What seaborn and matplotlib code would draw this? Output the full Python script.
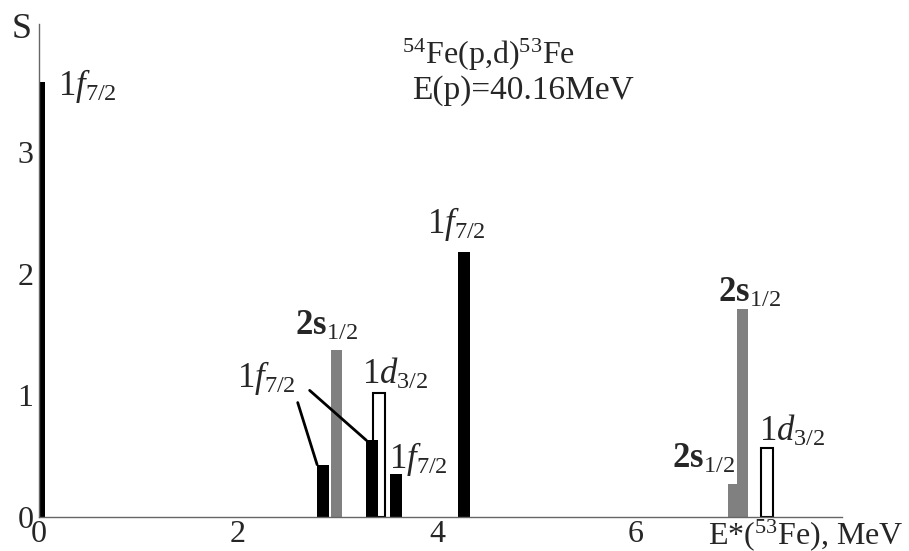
import numpy as np
import pandas as pd
import seaborn as sns
import matplotlib.pyplot as plt
from matplotlib.ticker import MultipleLocator

# filled peaks: 'f' = 1f7/2 (black), 's' = 2s1/2 (gray)
energy = [0.0, 2.855, 2.99, 3.35, 3.585, 4.275, 6.98, 7.07]
strength = [3.57, 0.43, 1.37, 0.63, 0.35, 2.18, 0.27, 1.71]
shell = ['f', 'f', 's', 'f', 'f', 'f', 's', 's']

# open peaks: 1d3/2
d_energy = [3.42, 7.32]
d_strength = [1.02, 0.57]

# peak labels (data coords, left edge / vertical centre)
lab_text = [r'$1\mathit{f}_{7/2}$', r'$1\mathit{f}_{7/2}$', r'$\mathbf{2s}_{1/2}$',
            r'$1\mathit{f}_{7/2}$', r'$1\mathit{d}_{3/2}$', r'$1\mathit{f}_{7/2}$',
            r'$\mathbf{2s}_{1/2}$', r'$\mathbf{2s}_{1/2}$', r'$1\mathit{d}_{3/2}$']
lab_x = [0.19, 3.90, 2.57, 1.99, 3.25, 3.52, 6.82, 6.36, 7.24]
lab_y = [3.54, 2.41, 1.57, 1.14, 1.17, 0.48, 1.84, 0.47, 0.70]

# leader lines from the left 1f7/2 label to the two small peaks
lead_from = [(2.60, 0.94), (2.72, 1.04)]
lead_to = [1, 3]  # index into energy

bar_w = 0.12

sns.set_style("white")
plt.rcParams['font.family'] = ['Liberation Serif', 'DejaVu Serif']
plt.rcParams['mathtext.fontset'] = 'custom'
plt.rcParams['mathtext.rm'] = 'Liberation Serif'
plt.rcParams['mathtext.it'] = 'Liberation Serif:italic'
plt.rcParams['mathtext.bf'] = 'Liberation Serif:bold'

fig = plt.figure(figsize=(9.09, 5.51), dpi=100)
ax = fig.add_axes([39 / 909, 1 - 517 / 551, (842 - 39) / 909, (517 - 24) / 551])

peaks = pd.DataFrame({'E': energy, 'S': strength, 'shell': shell})
open_peaks = pd.DataFrame({'E': d_energy, 'S': d_strength})

# open bars first, filled ones go on top
sns.barplot(data=open_peaks, x='E', y='S', native_scale=True, color='white', saturation=1,
            edgecolor='black', linewidth=1.5, width=bar_w / np.diff(sorted(d_energy)).min(), ax=ax)
sns.barplot(data=peaks, x='E', y='S', hue='shell', palette={'f': 'black', 's': '#808080'},
            native_scale=True, dodge=False, saturation=1, linewidth=0, legend=False,
            width=bar_w / np.diff(sorted(energy)).min(), ax=ax)

for t, x, y in zip(lab_text, lab_x, lab_y):
    ax.text(x, y, t, fontsize=25, ha='left', va='center')

for (x0, y0), i in zip(lead_from, lead_to):
    ax.annotate('', xy=(energy[i] - bar_w / 2, strength[i]), xytext=(x0, y0),
                arrowprops=dict(arrowstyle='-', color='black', lw=2, shrinkA=0, shrinkB=0))

ax.set_xlim(0, 8.07)
ax.set_ylim(0, 4.05)
ax.set_xticks([0, 2, 4, 6])
ax.set_yticks([0, 1, 2, 3])
ax.xaxis.set_minor_locator(MultipleLocator(0.5))
ax.yaxis.set_minor_locator(MultipleLocator(0.2))
ax.tick_params(which='both', direction='in', color='#555555', width=0.8, labelsize=23)
ax.tick_params(which='major', length=4)
ax.tick_params(which='minor', length=3)
ax.tick_params(axis='y', pad=4)
ax.tick_params(axis='x', pad=2)
ax.set_xlabel('')
ax.set_ylabel('')
sns.despine(ax=ax)
for s in ['left', 'bottom']:
    ax.spines[s].set_color('#666666')
    ax.spines[s].set_linewidth(1)

fig.text(12 / 909, 1 - 38 / 551, 'S', fontsize=26, va='baseline')
fig.text(904 / 909, 1 - 544 / 551, r'E*($^{53}$Fe), MeV', fontsize=23, ha='right', va='baseline')
fig.text(402 / 909, 1 - 64 / 551, r'$^{54}$Fe(p,d)$^{53}$Fe', fontsize=23, va='baseline')
fig.text(412 / 909, 1 - 99 / 551, 'E(p)=40.16MeV', fontsize=24, va='baseline')

fig.savefig('out.png', dpi=100)
